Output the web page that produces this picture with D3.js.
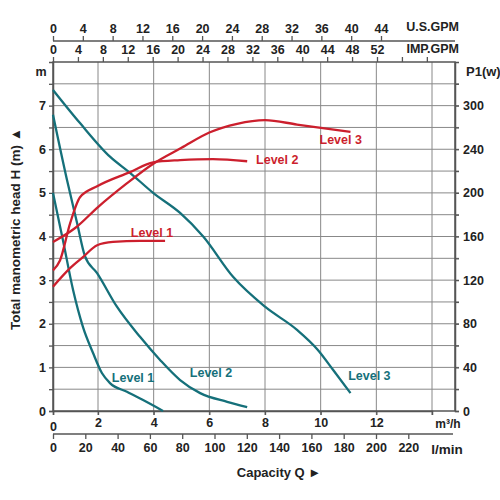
<!DOCTYPE html>
<html>
  <head>
    <meta charset="utf-8">
    <title>Pump curves</title>
    <script src="https://d3js.org/d3.v7.min.js"></script>
    <style>
      body { margin: 0; background: #fff; }
      text { font-family: Arial, "Liberation Sans", sans-serif; font-weight: bold; }
    </style>
  </head>
  <body>
    <svg width="500" height="500" id="mainsvg"></svg>
    <script>
      // head curves, H (m) against Q (m³/h)
      const headL1Q = [0, 0.44, 0.89, 1.33, 1.78, 2.14, 2.43, 3.04, 3.62, 4.34];
      const headL1H = [5.0, 3.92, 2.78, 1.93, 1.33, 0.87, 0.64, 0.44, 0.25, 0.0];
      const headL2Q = [0, 0.62, 1.07, 1.42, 1.96, 2.68, 3.51, 4.23, 4.95, 5.67, 6.64, 7.36];
      const headL2H = [6.79, 5.3, 4.31, 3.55, 3.16, 2.39, 1.7, 1.17, 0.71, 0.41, 0.21, 0.09];
      const headL3Q = [0, 1.2, 2.43, 3.15, 3.98, 4.95, 5.78, 6.86, 8.0, 9.15, 9.9, 10.45, 11.07];
      const headL3H = [7.36, 6.6, 5.83, 5.46, 5.0, 4.54, 4.0, 3.07, 2.39, 1.86, 1.4, 0.94, 0.41];

      // power curves, P1 (W) against Q (m³/h)
      const powL1Q = [0, 0.76, 1.33, 1.96, 2.54, 3.51, 4.41];
      const powL1W = [114, 131, 141, 152, 155, 156, 156];
      const powL2Q = [0, 0.31, 0.76, 1.2, 1.96, 3.15, 3.98, 4.95, 6.13, 7.36];
      const powL2W = [129, 138, 172, 196, 206, 219, 228, 230, 231, 229];
      const powL3Q = [0, 1, 2, 3, 4, 5, 6, 7, 8, 9.15, 11.07];
      const powL3W = [155, 168, 187, 208, 227, 242, 263, 275, 280, 274, 264];

      // tick labels
      const headTicks = [0, 1, 2, 3, 4, 5, 6, 7];
      const powTicks = [0, 40, 80, 120, 160, 200, 240, 300];
      const m3hTicks = [0, 2, 4, 6, 8, 10, 12];
      const lminTicks = [0, 20, 40, 60, 80, 100, 120, 140, 160, 180, 200, 220];
      const usTicks = [0, 4, 8, 12, 16, 20, 24, 28, 32, 36, 40, 44];
      const impTicks = [0, 4, 8, 12, 16, 20, 24, 28, 32, 36, 40, 44, 48, 52];
      const impMinor = [56, 60];

      const svg = d3.select('#mainsvg');
      const teal = '#15707a';
      const red = '#cc1f2d';
      const ink = '#222';
      const pl = 53, pr = 455, pt = 62, pb = 411;

      const x = d3.scaleLinear().domain([0, 2, 14]).range([pl, 98, 432]);
      const y = d3.scaleLinear().domain([0, 8]).range([pb, pt]);
      const yP = d3.scaleLinear().domain([0, 240, 300]).range([y(0), y(6), y(7)]);
      const xL = d3.scaleLinear().domain([0, 200]).range([pl, 376]);
      const xUS = d3.scaleLinear().domain([0, 44]).range([pl, 381]);
      const xImp = d3.scaleLinear().domain([0, 52]).range([pl, 377]);

      // grid
      const grid = svg.append('g').attr('stroke', '#888').attr('stroke-width', 1);
      grid.selectAll('.hg').data(d3.range(0.5, 8, 0.5)).join('line')
        .attr('x1', pl).attr('x2', pr + 4)
        .attr('y1', d => y(d)).attr('y2', d => y(d));
      grid.selectAll('.vg').data(d3.range(2, 15, 2)).join('line')
        .attr('y1', pt).attr('y2', pb + 4)
        .attr('x1', d => x(d)).attr('x2', d => x(d));

      // plot frame
      svg.append('rect').attr('x', pl).attr('y', pt)
        .attr('width', pr - pl).attr('height', pb - pt)
        .attr('fill', 'none').attr('stroke', '#555').attr('stroke-width', 1.5);

      // left axis
      const yAxis = d3.axisLeft(y).tickValues(d3.range(0, 8, 0.5)).tickSize(4).tickPadding(3)
        .tickFormat(d => headTicks.includes(d) ? d : '');
      svg.append('g').attr('transform', `translate(${pl},0)`).call(yAxis);

      // right axis
      const yAxisR = d3.axisRight(y).tickValues(d3.range(0, 8, 0.5)).tickSize(4).tickPadding(4)
        .tickFormat(d => Number.isInteger(d) ? powTicks[d] : '');
      svg.append('g').attr('transform', `translate(${pr},0)`).call(yAxisR);

      // bottom m³/h axis
      const xAxis = d3.axisBottom(x).tickValues(m3hTicks).tickSize(4).tickPadding(3);
      const gx = svg.append('g').attr('transform', `translate(0,${pb})`).call(xAxis);

      // l/min axis
      const xAxisL = d3.axisBottom(xL).tickValues(lminTicks).tickSize(5).tickPadding(4).tickSizeOuter(0);
      const gl = svg.append('g').attr('transform', `translate(0,434)`).call(xAxisL);
      gl.select('.domain').attr('d', `M${pl},0H453`);

      // top US GPM axis
      const xAxisUS = d3.axisTop(xUS).tickValues(usTicks).tickSize(5).tickPadding(3).tickSizeOuter(0);
      const gus = svg.append('g').attr('transform', `translate(0,41)`).call(xAxisUS);
      gus.select('.domain').attr('d', `M${pl},0H${pr}`);

      // top IMP GPM axis
      const xAxisImp = d3.axisTop(xImp).tickValues(impTicks.concat(impMinor)).tickSize(5).tickPadding(3)
        .tickFormat(d => impTicks.includes(d) ? d : '');
      const gimp = svg.append('g').attr('transform', `translate(0,${pt})`).call(xAxisImp);
      gimp.select('.domain').remove();

      svg.selectAll('.domain').attr('stroke', '#555').attr('stroke-width', 1.5);
      svg.selectAll('.tick line').attr('stroke', '#555').attr('stroke-width', 1.3);
      svg.selectAll('.tick text').attr('font-size', 12.5).attr('fill', ink);
      gx.selectAll('.tick text').filter(d => d === 0).attr('dy', '1.0em');

      // unit labels
      const label = (t, px, py, anchor, size) => svg.append('text').text(t)
        .attr('x', px).attr('y', py).attr('text-anchor', anchor || 'start').attr('fill', ink)
        .attr('dominant-baseline', 'central').attr('font-size', size || 12.5);
      label('U.S.GPM', 459, 27, 'end');
      label('IMP.GPM', 459, 49, 'end');
      label('m', 41, 72, 'middle');
      label('P1(w)', 466, 71, 'start', 13);
      label('m³/h', 448, 424, 'middle', 12);
      label('l/min', 447, 449, 'middle', 13.5);
      label('Capacity Q ►', 279, 472, 'middle', 13);
      svg.append('text').text('Total manometric head H (m) ▲')
        .attr('transform', 'translate(15,229) rotate(-90)').attr('fill', ink)
        .attr('text-anchor', 'middle').attr('dominant-baseline', 'central').attr('font-size', 13.5);

      // curves
      const headLine = d3.line().x(d => x(d[0])).y(d => y(d[1])).curve(d3.curveMonotoneX);
      const powLine = d3.line().x(d => x(d[0])).y(d => yP(d[1])).curve(d3.curveMonotoneX);
      const heads = [[headL1Q, headL1H], [headL2Q, headL2H], [headL3Q, headL3H]];
      const pows = [[powL1Q, powL1W], [powL2Q, powL2W], [powL3Q, powL3W]];

      svg.selectAll('.head').data(heads).join('path').attr('class', 'head')
        .attr('d', d => headLine(d3.zip(d[0], d[1])))
        .attr('fill', 'none').attr('stroke', teal).attr('stroke-width', 2.3);
      svg.selectAll('.pow').data(pows).join('path').attr('class', 'pow')
        .attr('d', d => powLine(d3.zip(d[0], d[1])))
        .attr('fill', 'none').attr('stroke', red).attr('stroke-width', 2.3);

      // curve labels
      const curveLabel = (t, q, h, col, anchor) => svg.append('text').text(t)
        .attr('x', x(q)).attr('y', y(h)).attr('fill', col).attr('font-size', 12.5)
        .attr('text-anchor', anchor).attr('dominant-baseline', 'central');
      curveLabel('Level 1', 3.26, 0.76, teal, 'middle');
      curveLabel('Level 2', 6.06, 0.87, teal, 'middle');
      curveLabel('Level 3', 11.75, 0.8, teal, 'middle');
      curveLabel('Level 1', 3.94, 4.08, red, 'middle');
      curveLabel('Level 2', 7.68, 5.76, red, 'start');
      curveLabel('Level 3', 10.72, 6.22, red, 'middle');
    </script>
  </body>
</html>
